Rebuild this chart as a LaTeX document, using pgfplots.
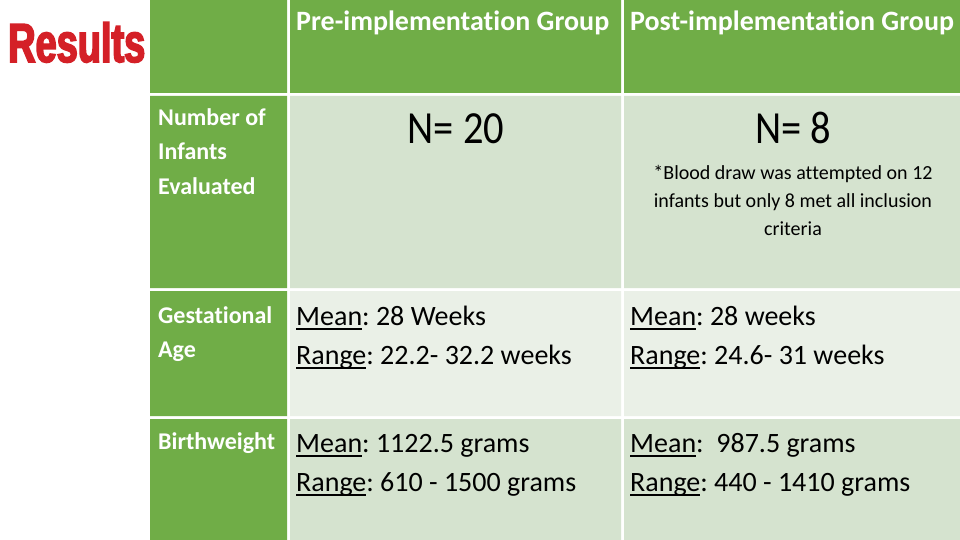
\documentclass[border=0pt]{standalone}
\usepackage{pgfplots}
\pgfplotsset{compat=1.18}
\usepackage{fontspec}
\setmainfont{Carlito}[Ligatures=NoCommon]
\newfontfamily\condfont[FakeStretch=0.88,Ligatures=NoCommon]{Carlito}
\newfontfamily\resfont[FakeStretch=0.69,FakeBold=3]{Liberation Sans}
\definecolor{hdr}{HTML}{70AD47}
\definecolor{bandA}{HTML}{D5E3CF}
\definecolor{bandB}{HTML}{EAF0E7}
\definecolor{resred}{HTML}{D42027}
\newcommand\ul[1]{\setbox0\hbox{#1}\rlap{\rule[-5pt]{\wd0}{1.8pt}}\box0\relax}
\newcommand\fs[1]{\fontsize{#1}{#1}\selectfont}
\frenchspacing
\begin{document}
\begin{tikzpicture}
\begin{axis}[width=960pt,height=540pt,scale only axis,xmin=0,xmax=960,ymin=0,ymax=540,
  y dir=reverse,hide axis,clip=false]
% background
\addplot[fill=white,draw=none] coordinates {(0,0) (960,0) (960,540) (0,540) (0,0)};
% header row
\addplot[fill=hdr,draw=none] coordinates {(150,0) (287,0) (287,93) (150,93) (150,0)};
\addplot[fill=hdr,draw=none] coordinates {(290,0) (621,0) (621,93) (290,93) (290,0)};
\addplot[fill=hdr,draw=none] coordinates {(624,0) (960,0) (960,93) (624,93) (624,0)};
% row 1
\addplot[fill=hdr,draw=none] coordinates {(150,96) (287,96) (287,288) (150,288) (150,96)};
\addplot[fill=bandA,draw=none] coordinates {(290,96) (621,96) (621,288) (290,288) (290,96)};
\addplot[fill=bandA,draw=none] coordinates {(624,96) (960,96) (960,288) (624,288) (624,96)};
% row 2
\addplot[fill=hdr,draw=none] coordinates {(150,291) (287,291) (287,416) (150,416) (150,291)};
\addplot[fill=bandB,draw=none] coordinates {(290,291) (621,291) (621,416) (290,416) (290,291)};
\addplot[fill=bandB,draw=none] coordinates {(624,291) (960,291) (960,416) (624,416) (624,291)};
% row 3
\addplot[fill=hdr,draw=none] coordinates {(150,419) (287,419) (287,540) (150,540) (150,419)};
\addplot[fill=bandA,draw=none] coordinates {(290,419) (621,419) (621,540) (290,540) (290,419)};
\addplot[fill=bandA,draw=none] coordinates {(624,419) (960,419) (960,540) (624,540) (624,419)};
% title
\node[anchor=base west,inner sep=0pt,text=resred] at (axis cs:8,62) {\resfont\bfseries\fs{55}Results};
% header text
\node[anchor=base west,inner sep=0pt,text=white] at (axis cs:296,31) {\bfseries\fs{28}Pre-implementation Group};
\node[anchor=base west,inner sep=0pt,text=white] at (axis cs:630,31) {\bfseries\fs{28}Post-implementation Group};
% row labels
\node[anchor=base west,inner sep=0pt,text=white] at (axis cs:158,126) {\bfseries\fs{24}Number of};
\node[anchor=base west,inner sep=0pt,text=white] at (axis cs:158,160) {\bfseries\fs{24}Infants};
\node[anchor=base west,inner sep=0pt,text=white] at (axis cs:158,194) {\bfseries\fs{24}Evaluated};
\node[anchor=base west,inner sep=0pt,text=white] at (axis cs:158,323) {\bfseries\fs{24}Gestational};
\node[anchor=base west,inner sep=0pt,text=white] at (axis cs:158,357) {\bfseries\fs{24}Age};
\node[anchor=base west,inner sep=0pt,text=white] at (axis cs:158,449) {\bfseries\fs{24}Birthweight};
% row 1 content
\node[anchor=base,inner sep=0pt] at (axis cs:456,144) {\condfont\fs{46}N= 20};
\node[anchor=base,inner sep=0pt] at (axis cs:793,144) {\condfont\fs{46}N= 8};
\node[anchor=base,inner sep=0pt] at (axis cs:793,179) {\fs{20}*Blood draw was at\kern0pt tempted on 12};
\node[anchor=base,inner sep=0pt] at (axis cs:793,207) {\fs{20}infants but only 8 met all inclusion};
\node[anchor=base,inner sep=0pt] at (axis cs:793,235) {\fs{20}criteria};
% row 2 content
\node[anchor=base west,inner sep=0pt] at (axis cs:296,325) {\fs{28}\ul{Mean}: 28 Weeks};
\node[anchor=base west,inner sep=0pt] at (axis cs:296,364) {\fs{28}\ul{Range}: 22.2- 32.2 weeks};
\node[anchor=base west,inner sep=0pt] at (axis cs:630,325) {\fs{28}\ul{Mean}: 28 weeks};
\node[anchor=base west,inner sep=0pt] at (axis cs:630,364) {\fs{28}\ul{Range}: 24.6- 31 weeks};
% row 3 content
\node[anchor=base west,inner sep=0pt] at (axis cs:296,452) {\fs{28}\ul{Mean}: 1122.5 grams};
\node[anchor=base west,inner sep=0pt] at (axis cs:296,491) {\fs{28}\ul{Range}: 610 - 1500 grams};
\node[anchor=base west,inner sep=0pt] at (axis cs:630,452) {\fs{28}\ul{Mean}:\ \ 987.5 grams};
\node[anchor=base west,inner sep=0pt] at (axis cs:630,491) {\fs{28}\ul{Range}: 440 - 1410 grams};
\end{axis}
\end{tikzpicture}
\end{document}
